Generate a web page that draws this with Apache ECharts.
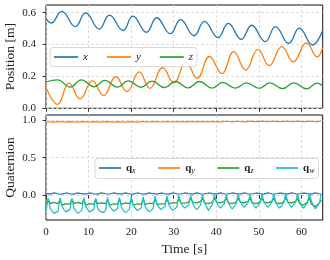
<!DOCTYPE html>
<html><head><meta charset="utf-8">
<script src="https://cdn.jsdelivr.net/npm/echarts@6/dist/echarts.min.js"></script>
<style>html,body{margin:0;padding:0;background:#fff}#c{width:330px;height:260px}</style>
</head><body><div id="c"></div>
<script>
// ---------- DATA ----------
const xTicks = [0, 10, 20, 30, 40, 50, 60];
const posTicks = [0, 0.2, 0.4, 0.6];
const quatTicks = [0, 0.5, 1.0];

// Position [m] : [time s, value]
const posX = [[0,0.562],[1.2,0.535],[3.7,0.608],[6.9,0.512],[9.3,0.598],[12.5,0.497],[14.9,0.585],[18.1,0.488],[20.4,0.578],[23.6,0.477],[26.0,0.568],[29.2,0.468],[31.6,0.556],[34.8,0.455],[37.2,0.545],[40.4,0.443],[42.8,0.533],[45.9,0.432],[48.3,0.521],[51.5,0.418],[53.9,0.512],[57.0,0.408],[59.5,0.503],[62.6,0.397],[65.0,0.49]];
const posY = [[0,0.13],[2.7,0.025],[5.4,0.158],[8.0,0.058],[10.9,0.172],[13.5,0.079],[16.4,0.198],[19.0,0.105],[21.9,0.228],[24.4,0.125],[27.4,0.255],[30.0,0.16],[32.9,0.29],[35.5,0.188],[38.4,0.325],[41.3,0.218],[44.1,0.355],[46.9,0.24],[49.8,0.37],[52.4,0.268],[55.4,0.387],[58.1,0.292],[61.2,0.41],[63.7,0.322],[65.0,0.38]];
const posZ = [[0,0.165],[2.7,0.178],[5.7,0.133],[8.3,0.178],[11.3,0.135],[13.8,0.175],[16.8,0.133],[19.3,0.172],[22.3,0.132],[24.9,0.17],[27.9,0.13],[30.4,0.168],[33.4,0.128],[36.0,0.168],[39.0,0.127],[41.5,0.163],[44.5,0.127],[47.1,0.16],[50.1,0.125],[52.6,0.16],[55.6,0.123],[58.2,0.16],[61.2,0.122],[63.7,0.158],[65.0,0.14]];

// Quaternion samples, one every 0.465 s starting at 0.04 s
const qStart = 0.04, qStep = 0.465;
const qx = [0.025,
 0.005,0.015,0.028,0.032,0.03,0.02,
 0.006,0.016,0.028,0.031,0.03,0.02,
 0.005,0.015,0.029,0.032,0.03,0.021,
 0.006,0.016,0.028,0.031,0.029,0.02,
 0.005,0.015,0.028,0.032,0.03,0.02,
 0.006,0.017,0.029,0.031,0.03,0.021,
 0.005,0.015,0.028,0.032,0.03,0.02,
 0.006,0.016,0.028,0.031,0.029,0.02,
 0.005,0.016,0.029,0.032,0.03,0.021,
 0.006,0.016,0.028,0.031,0.03,0.02,
 0.005,0.015,0.028,0.032,0.03,0.02,
 0.007,0.017,0.029,0.031,0.029,0.021,
 0.006,0.016,0.028,0.032,0.03,0.02,
 0.007,0.017,0.029,0.031,0.03,0.021,
 0.006,0.016,0.028,0.032,0.03,0.02,
 0.007,0.017,0.029,0.031,0.029,0.021,
 0.006,0.016,0.028,0.032,0.03,0.02,
 0.007,0.017,0.029,0.031,0.03,0.021,
 0.006,0.016,0.028,0.032,0.03,0.02,
 0.007,0.017,0.029,0.031,0.029,0.021,
 0.006,0.016,0.028,0.032,0.03,0.02,
 0.007,0.017,0.029,0.031,0.03,0.021,
 0.006,0.016,0.028,0.032,0.03,0.02,
 0.01];
const qy = [0.976,
 0.986,0.976,0.972,0.971,0.973,0.977,
 0.985,0.975,0.972,0.972,0.974,0.978,
 0.986,0.976,0.972,0.971,0.973,0.977,
 0.985,0.975,0.972,0.972,0.974,0.978,
 0.986,0.976,0.973,0.972,0.973,0.977,
 0.985,0.976,0.973,0.972,0.974,0.978,
 0.986,0.976,0.973,0.972,0.973,0.977,
 0.985,0.976,0.973,0.972,0.974,0.978,
 0.986,0.977,0.974,0.973,0.974,0.978,
 0.986,0.977,0.974,0.973,0.975,0.979,
 0.987,0.977,0.974,0.973,0.974,0.978,
 0.987,0.978,0.975,0.974,0.975,0.979,
 0.988,0.978,0.975,0.974,0.976,0.98,
 0.988,0.979,0.976,0.975,0.976,0.98,
 0.989,0.979,0.976,0.975,0.977,0.981,
 0.989,0.98,0.977,0.976,0.977,0.981,
 0.99,0.98,0.977,0.976,0.978,0.982,
 0.99,0.981,0.978,0.977,0.978,0.982,
 0.99,0.981,0.978,0.977,0.978,0.982,
 0.99,0.981,0.978,0.977,0.978,0.982,
 0.99,0.981,0.978,0.977,0.978,0.982,
 0.99,0.981,0.978,0.977,0.978,0.982,
 0.99,0.981,0.978,0.977,0.978,0.982,
 0.99];
const qz = [-0.1,
 -0.05,-0.11,-0.1,-0.095,-0.1,-0.11,
 -0.06,-0.13,-0.12,-0.11,-0.11,-0.12,
 -0.05,-0.11,-0.1,-0.095,-0.1,-0.11,
 -0.06,-0.13,-0.12,-0.11,-0.115,-0.12,
 -0.05,-0.11,-0.1,-0.1,-0.1,-0.11,
 -0.06,-0.13,-0.12,-0.115,-0.115,-0.12,
 -0.05,-0.12,-0.11,-0.1,-0.105,-0.11,
 -0.06,-0.13,-0.12,-0.115,-0.12,-0.12,
 -0.05,-0.12,-0.11,-0.105,-0.11,-0.11,
 -0.06,-0.12,-0.12,-0.115,-0.115,-0.11,
 -0.05,-0.11,-0.11,-0.1,-0.1,-0.1,
 -0.05,-0.1,-0.11,-0.105,-0.1,-0.09,
 -0.04,-0.09,-0.1,-0.1,-0.095,-0.08,
 -0.04,-0.1,-0.11,-0.11,-0.1,-0.09,
 -0.04,-0.09,-0.1,-0.1,-0.1,-0.08,
 -0.04,-0.1,-0.105,-0.11,-0.1,-0.09,
 -0.04,-0.09,-0.1,-0.1,-0.095,-0.08,
 -0.04,-0.1,-0.11,-0.11,-0.1,-0.09,
 -0.04,-0.09,-0.1,-0.1,-0.1,-0.08,
 -0.04,-0.1,-0.11,-0.11,-0.1,-0.09,
 -0.03,-0.09,-0.1,-0.1,-0.1,-0.08,
 -0.04,-0.11,-0.12,-0.13,-0.12,-0.09,
 -0.03,-0.12,-0.14,-0.15,-0.14,-0.1,
 -0.06];
const qw = [-0.2,
 -0.04,-0.17,-0.21,-0.24,-0.24,-0.21,
 -0.03,-0.15,-0.19,-0.22,-0.22,-0.19,
 -0.04,-0.17,-0.21,-0.24,-0.235,-0.2,
 -0.03,-0.15,-0.19,-0.22,-0.22,-0.19,
 -0.04,-0.17,-0.21,-0.235,-0.23,-0.2,
 -0.03,-0.14,-0.18,-0.21,-0.21,-0.18,
 -0.03,-0.16,-0.2,-0.23,-0.225,-0.19,
 -0.02,-0.13,-0.17,-0.2,-0.2,-0.17,
 -0.02,-0.15,-0.19,-0.22,-0.215,-0.18,
 -0.01,-0.12,-0.16,-0.19,-0.19,-0.15,
 -0.01,-0.13,-0.17,-0.2,-0.2,-0.16,
 0.0,-0.1,-0.14,-0.17,-0.17,-0.13,
 0.0,-0.11,-0.16,-0.19,-0.18,-0.13,
 0.01,-0.1,-0.15,-0.2,-0.19,-0.12,
 0.01,-0.09,-0.14,-0.17,-0.16,-0.11,
 0.01,-0.1,-0.15,-0.18,-0.17,-0.11,
 0.02,-0.08,-0.13,-0.16,-0.15,-0.1,
 0.01,-0.09,-0.14,-0.17,-0.16,-0.1,
 0.02,-0.08,-0.13,-0.16,-0.15,-0.09,
 0.02,-0.09,-0.14,-0.17,-0.16,-0.1,
 0.02,-0.08,-0.13,-0.16,-0.15,-0.09,
 0.02,-0.09,-0.14,-0.17,-0.16,-0.1,
 0.03,-0.08,-0.14,-0.18,-0.17,-0.1,
 0.02];

// ---------- CHART ----------
const FF = 'Liberation Serif';
const C = ['#1f77b4', '#ff7f0e', '#2ca02c', '#17becf'];
const qTime = qx.map((_, i) => +(qStart + qStep * i).toFixed(3));
const pair = arr => arr.map((v, i) => [qTime[i], v]);

const chart = echarts.init(document.getElementById('c'), null, {renderer: 'canvas'});
const split = {show: true, lineStyle: {color: '#d6d6d6', width: 0.8, type: [3, 2]}};
const tick = vals => ({show: true, inside: false, length: 3.5, lineStyle: {color: '#000', width: 0.8}, customValues: vals});
const lbl = (vals, fmt, show) => ({show: show, customValues: vals, color: '#222', fontFamily: FF, fontSize: 11, formatter: fmt});

function xAx(gi, showLabel) {
  return {
    type: 'value', gridIndex: gi, min: 0, max: 65,
    axisLine: {show: false}, axisTick: tick(xTicks),
    axisLabel: Object.assign(lbl(xTicks, v => String(v), showLabel), {margin: 7}), splitLine: split,
    name: showLabel ? 'Time [s]' : '', nameLocation: 'middle', nameGap: 22, nameMoveOverlap: false,
    nameTextStyle: {fontFamily: FF, fontSize: 13.5, color: '#222'}
  };
}
const legendBase = {orient: 'horizontal', icon: 'rect', itemHeight: 1.7, padding: [4, 4, 4, 4],
  backgroundColor: 'rgba(255,255,255,0.85)', borderColor: '#cfcfcf', borderWidth: 0.8, borderRadius: 3};

const option = {
  animation: false,
  backgroundColor: '#fff',
  grid: [
    {left: 46, right: 7.3, top: 5, height: 103.3, show: true, borderColor: '#111', borderWidth: 1, backgroundColor: 'transparent', outerBoundsMode: 'none', containLabel: false},
    {left: 46, right: 7.3, top: 115, height: 105, show: true, borderColor: '#111', borderWidth: 1, backgroundColor: 'transparent', outerBoundsMode: 'none', containLabel: false}
  ],
  xAxis: [xAx(0, false), xAx(1, true)],
  yAxis: [
    {type: 'value', gridIndex: 0, min: 0, max: 0.648,
     axisLine: {show: false}, axisTick: tick(posTicks),
     axisLabel: Object.assign(lbl(posTicks, v => v.toFixed(1), true), {margin: 10}), splitLine: split,
     name: 'Position [m]', nameLocation: 'middle', nameGap: 29, nameMoveOverlap: false,
     nameTextStyle: {fontFamily: FF, fontSize: 13.5, color: '#222'}},
    {type: 'value', gridIndex: 1, min: -0.328, max: 1.066,
     axisLine: {show: false}, axisTick: tick(quatTicks),
     axisLabel: Object.assign(lbl(quatTicks, v => v.toFixed(1), true), {margin: 10}), splitLine: split,
     name: 'Quaternion', nameLocation: 'middle', nameGap: 29, nameMoveOverlap: false,
     nameTextStyle: {fontFamily: FF, fontSize: 13.5, color: '#222'}}
  ],
  legend: [
    Object.assign({}, legendBase, {data: ['x', 'y', 'z'], left: 50, top: 47.5,
     itemWidth: 24, itemGap: 19,
     textStyle: {fontFamily: FF, fontSize: 11, fontStyle: 'italic', color: '#222', width: 12}}),
    Object.assign({}, legendBase, {data: ['qx', 'qy', 'qz', 'qw'], left: 95, top: 158.5,
     itemWidth: 22, itemGap: 22.5,
     formatter: n => '{q|q}{s|' + n.slice(1) + '}',
     textStyle: {fontFamily: FF, color: '#222', width: 15,
       rich: {q: {fontFamily: FF, fontWeight: 'bold', fontSize: 11, color: '#222'},
              s: {fontFamily: FF, fontStyle: 'italic', fontSize: 8, color: '#222', padding: [5, 0, 0, 0]}}}})
  ],
  series: [
    {name: 'x', type: 'line', xAxisIndex: 0, yAxisIndex: 0, data: posX, smooth: 0.45, symbol: 'none', lineStyle: {color: C[0], width: 1.3}, itemStyle: {color: C[0]}},
    {name: 'y', type: 'line', xAxisIndex: 0, yAxisIndex: 0, data: posY, smooth: 0.45, symbol: 'none', lineStyle: {color: C[1], width: 1.3}, itemStyle: {color: C[1]}},
    {name: 'z', type: 'line', xAxisIndex: 0, yAxisIndex: 0, data: posZ, smooth: 0.45, symbol: 'none', lineStyle: {color: C[2], width: 1.3}, itemStyle: {color: C[2]}},
    {name: 'qx', type: 'line', xAxisIndex: 1, yAxisIndex: 1, data: pair(qx), symbol: 'none', lineStyle: {color: C[0], width: 1.2}, itemStyle: {color: C[0]}},
    {name: 'qy', type: 'line', xAxisIndex: 1, yAxisIndex: 1, data: pair(qy), symbol: 'none', lineStyle: {color: C[1], width: 1.2}, itemStyle: {color: C[1]}},
    {name: 'qz', type: 'line', xAxisIndex: 1, yAxisIndex: 1, data: pair(qz), symbol: 'none', lineStyle: {color: C[2], width: 1.2}, itemStyle: {color: C[2]}},
    {name: 'qw', type: 'line', xAxisIndex: 1, yAxisIndex: 1, data: pair(qw), symbol: 'none', lineStyle: {color: C[3], width: 1.2}, itemStyle: {color: C[3]}}
  ]
};
chart.setOption(option);
</script></body></html>
